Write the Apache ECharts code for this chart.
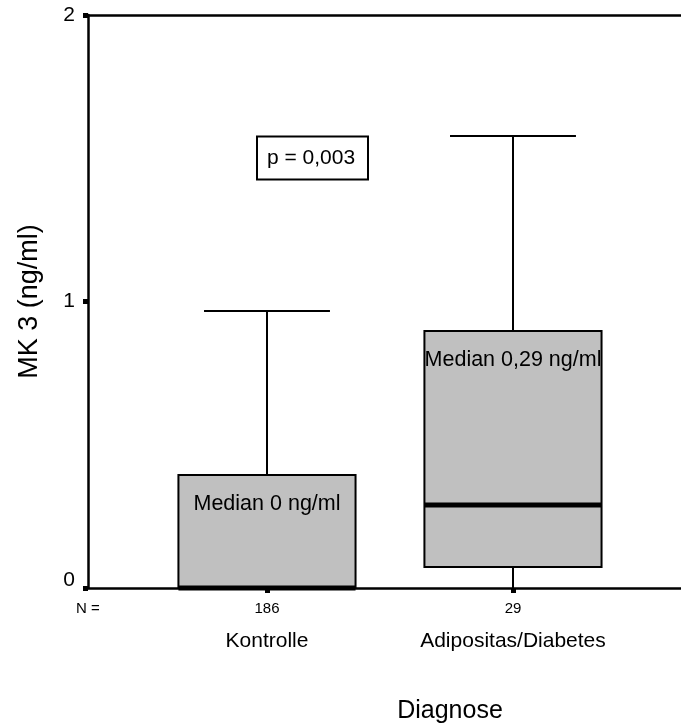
<!DOCTYPE html>
<html>
<head>
<meta charset="utf-8">
<script src="https://cdn.jsdelivr.net/npm/echarts@6/dist/echarts.min.js"></script>
<style>
  html, body { margin: 0; padding: 0; background: #fff; }
  #chart { width: 681px; height: 725px; }
</style>
</head>
<body>
<div id="chart"></div>
<script>
// MK 3 by diagnosis group — box plot values (ng/ml)
const categories = ['Kontrolle', 'Adipositas/Diabetes'];
const groupN = [186, 29];
const whiskerLow = [0, 0];
const quartile1 = [0, 0.073];
const medians = [0, 0.29];
const quartile3 = [0.394, 0.897];
const whiskerHigh = [0.967, 1.578];
const medianLabels = ['Median 0 ng/ml', 'Median 0,29 ng/ml'];
const pValueText = 'p = 0,003';

const FONT = "'Liberation Sans', Arial, sans-serif";
const X_MIN = 0.2724, X_MAX = 2.683;
const BOX_HALF = 0.36, CAP_HALF = 0.256;

const boxData = categories.map((c, i) => [i + 1, whiskerLow[i], quartile1[i], medians[i], quartile3[i], whiskerHigh[i]]);

const chart = echarts.init(document.getElementById('chart'));
chart.setOption({
  animation: false,
  backgroundColor: '#fff',
  grid: { left: 88, right: 0, top: 15, bottom: 137, containLabel: false, outerBoundsMode: 'none' },
  xAxis: [{
    type: 'value', min: X_MIN, max: X_MAX,
    splitLine: { show: false },
    axisLine: { lineStyle: { color: '#000', width: 2.5 } },
    axisTick: { customValues: [1, 2], length: 5, lineStyle: { color: '#000', width: 5 } },
    axisLabel: {
      customValues: [1, 2], margin: 14,
      formatter: v => {
        const i = Math.round(v) - 1;
        return '{n|' + groupN[i] + '}\n{c|' + categories[i] + '}';
      },
      rich: {
        n: { fontFamily: FONT, fontSize: 15, lineHeight: 14, color: '#000' },
        c: { fontFamily: FONT, fontSize: 21, lineHeight: 50, color: '#000' }
      }
    }
  }, {
    type: 'value', position: 'top', min: X_MIN, max: X_MAX,
    splitLine: { show: false }, axisTick: { show: false }, axisLabel: { show: false },
    axisLine: { lineStyle: { color: '#000', width: 2.5 } }
  }],
  yAxis: {
    type: 'value', min: 0, max: 2, interval: 1,
    name: 'MK 3 (ng/ml)', nameLocation: 'middle', nameGap: 45, nameRotate: 90,
    nameTextStyle: { fontFamily: FONT, fontSize: 27, color: '#000' },
    splitLine: { show: false },
    axisLine: { show: true, lineStyle: { color: '#000', width: 2.5 } },
    axisTick: { show: true, length: 5, lineStyle: { color: '#000', width: 5 } },
    axisLabel: {
      margin: 13, fontFamily: FONT, fontSize: 21, color: '#000',
      formatter: v => v === 0 ? '{z|0}' : String(v),
      rich: { z: { fontFamily: FONT, fontSize: 21, color: '#000', padding: [0, 0, 16, 0] } }
    }
  },
  series: [{
    type: 'custom',
    data: boxData,
    encode: { x: 0, y: [1, 2, 3, 4, 5] },
    renderItem: (params, api) => {
      const x = api.value(0);
      const cx = api.coord([x, 0])[0];
      const yLo = api.coord([x, api.value(1)])[1];
      const yQ1 = api.coord([x, api.value(2)])[1];
      const yMed = api.coord([x, api.value(3)])[1];
      const yQ3 = api.coord([x, api.value(4)])[1];
      const yHi = api.coord([x, api.value(5)])[1];
      const hb = api.size([BOX_HALF, 0])[0];
      const hc = api.size([CAP_HALF, 0])[0];
      const line = { stroke: '#000', lineWidth: 2 };
      return {
        type: 'group',
        children: [
          { type: 'line', shape: { x1: cx, y1: yQ3, x2: cx, y2: yHi }, style: line },
          { type: 'line', shape: { x1: cx - hc, y1: yHi, x2: cx + hc, y2: yHi }, style: line },
          { type: 'line', shape: { x1: cx, y1: yQ1, x2: cx, y2: yLo }, style: line },
          { type: 'rect', shape: { x: cx - hb, y: yQ3, width: 2 * hb, height: yQ1 - yQ3 },
            style: { fill: '#c0c0c0', stroke: '#000', lineWidth: 2 } },
          { type: 'line', shape: { x1: cx - hb, y1: yMed, x2: cx + hb, y2: yMed },
            style: { stroke: '#000', lineWidth: 5 } }
        ]
      };
    }
  }],
  graphic: [
    { type: 'text', left: 76, top: 601, style: { text: 'N =', fontFamily: FONT, fontSize: 15, fill: '#000' } },
    { type: 'text', x: 450, y: 711, style: { text: 'Diagnose', fontFamily: FONT, fontSize: 25, fill: '#000', align: 'center', verticalAlign: 'middle' } },
    { type: 'text', x: 267, y: 504, z: 10, style: { text: medianLabels[0], fontFamily: FONT, fontSize: 21.5, fill: '#000', align: 'center', verticalAlign: 'middle' } },
    { type: 'text', x: 513, y: 360, z: 10, style: { text: medianLabels[1], fontFamily: FONT, fontSize: 21.5, fill: '#000', align: 'center', verticalAlign: 'middle' } },
    { type: 'rect', shape: { x: 257, y: 136.5, width: 111, height: 43 }, style: { fill: '#fff', stroke: '#000', lineWidth: 2 } },
    { type: 'text', x: 311, y: 158, style: { text: pValueText, fontFamily: FONT, fontSize: 21, fill: '#000', align: 'center', verticalAlign: 'middle' } }
  ]
});
</script>
</body>
</html>
